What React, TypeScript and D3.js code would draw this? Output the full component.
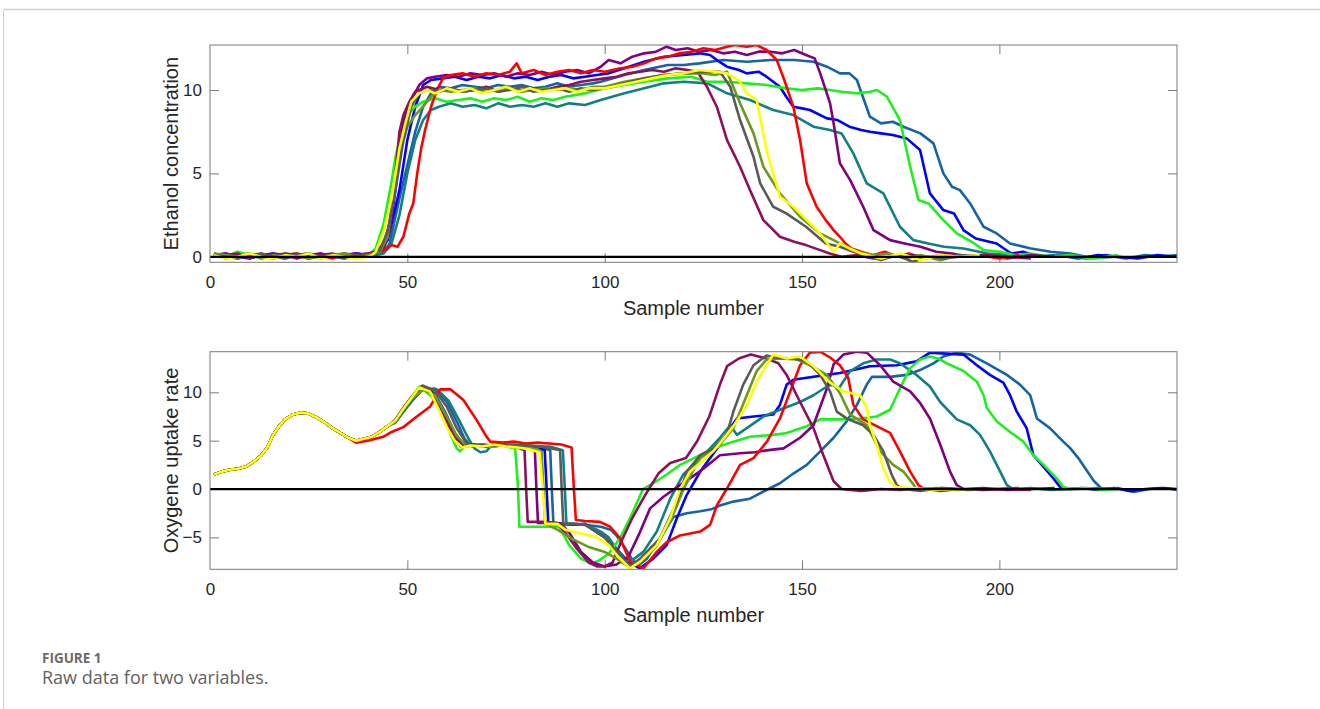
import React, { useRef, useEffect } from "react";
import * as d3 from "d3";

type Pt = [number, number];

// axis ticks
const sampleTicks = [0, 50, 100, 150, 200];
const ethanolTicks = [0, 5, 10];
const oxygenTicks = [-5, 0, 5, 10];

// ---------- Ethanol concentration (top panel) ----------
const ethRed: Pt[] = [[1,0.2],[4,-0.1],[7,0.1],[10,0],[13,0.2],[16,-0.1],[19,0.1],[22,0.2],[25,0],[28,0.1],[31,-0.1],[34,0.2],[37,0.1],[40,0.2],[43,0.3],[45,0.5],[46,0.7],[47.5,0.6],[49,1.2],[50.5,2.6],[51.5,3.2],[52.5,5.0],[53.5,6.5],[54.5,7.6],[56,9.0],[57.5,10.0],[59,10.7],[61,10.9],[64,11.0],[67,10.8],[70,11.0],[73,10.9],[76,11.1],[77.7,11.6],[79,11.0],[82,11.2],[85,10.9],[88,11.1],[91,11.2],[94,11.0],[97,11.2],[100,11.1],[104,11.3],[107,11.4],[110,11.6],[113,11.9],[116,12.0],[119,12.2],[122,12.3],[125,12.5],[128,12.4],[131,12.6],[133,12.7],[136,12.6],[138.5,12.7],[141,12.4],[143.6,11.8],[145.5,10.6],[147.8,9.0],[149.5,7.0],[151.2,4.4],[153.7,3.0],[156,2.2],[158,1.6],[159.6,1.2],[161,0.8],[162.5,0.5],[165,0.3],[168,0.1],[171,0.3],[174,0],[177,0.2],[181,-0.1],[185,0.1],[190,0],[195,0.1],[200,-0.1],[205,0.1]];
const ethPurple: Pt[] = [[1,0.1],[4,0.2],[7,-0.1],[10,0.1],[13,0],[16,0.2],[19,0.1],[22,-0.1],[25,0.1],[28,0.2],[31,0],[34,0.1],[37,0.2],[40,0.1],[42,0.3],[44,0.5],[45.5,1.5],[47,4.0],[48,6.5],[49,8.0],[50,9.0],[51,9.4],[53,10.3],[55,10.7],[57,10.8],[60,10.9],[63,10.8],[66,11.0],[69,10.9],[72,11.0],[75,10.8],[78,11.0],[81,10.9],[84,11.1],[87,10.9],[90,11.1],[93,11.2],[96,11.0],[99,11.4],[101,11.8],[104,11.6],[107,12.0],[110,12.2],[113,12.3],[115.7,12.6],[118,12.4],[121,12.5],[124,12.3],[127,12.4],[130,12.2],[133,12.3],[136,12.1],[139,12.3],[142,12.3],[145,12.2],[148,12.4],[151,12.1],[153.2,11.9],[154.6,11.0],[156,10.0],[157.1,9.2],[158,8.0],[159.6,5.6],[162.2,4.6],[165.5,3.0],[168.1,1.6],[172.3,1.0],[176,0.8],[180,0.6],[184,0.3],[188,0.2],[192,0],[197,0.1],[202,-0.1],[208,0.1],[214,0]];
const ethMaroon: Pt[] = [[1,0],[4,0.1],[7,0.2],[10,-0.1],[13,0.1],[16,0],[19,0.2],[22,0.1],[25,-0.1],[28,0.1],[31,0.2],[34,0],[37,0.1],[40,0.2],[42,0.3],[44,0.8],[45.5,2.0],[47,5.0],[48,7.5],[49,8.5],[50.5,9.3],[52,9.9],[55,10.2],[58,10.0],[61,10.1],[64,9.9],[67,10.0],[70,10.2],[73,9.9],[76,10.1],[79,10.0],[82,10.1],[85,10.0],[88,10.2],[91,10.3],[94,10.5],[97,10.6],[100,10.7],[103,10.8],[106,11.0],[109,11.1],[112,11.2],[115,11.1],[118,11.3],[121,11.2],[123.5,11.1],[125.9,10.2],[128.4,9.0],[131,7.0],[134.3,5.4],[136.8,4.0],[140.2,2.2],[144.4,1.2],[148,0.9],[151,0.7],[154.6,0.4],[157,0.2],[160,0],[164,0.1],[168,-0.1],[173,0],[178,0.1],[184,-0.1],[190,0],[196,0.1],[202,0],[208,-0.1]];
const ethGray: Pt[] = [[1,0.1],[4,0],[7,-0.1],[10,0.1],[13,0.2],[16,0],[19,-0.1],[22,0.1],[25,0.2],[28,0],[31,0.1],[34,-0.1],[37,0.1],[40,0],[43,0.4],[45,1.5],[47,4.0],[49,7.0],[51,9.0],[53,9.8],[55,10.0],[58,9.9],[61,10.1],[64,9.9],[67,10.0],[70,10.1],[73,9.9],[76,10.0],[79,10.2],[82,9.9],[85,10.0],[88,10.1],[91,9.9],[94,10.1],[97,10.0],[100,10.1],[105,10.4],[110,10.7],[115,10.9],[120,11.0],[125,11.1],[129.2,11.1],[131.8,10.2],[134.3,8.2],[137.7,6.0],[139.4,4.4],[142.7,3.0],[146,2.6],[151,1.8],[156,0.8],[159.6,0.6],[163,0.3],[166,0.1],[170,-0.2],[174,0.1],[178,-0.3],[182,0],[186,-0.1],[190,0.1],[195,0]];
const ethOlive: Pt[] = [[1,0.2],[4,0.1],[7,0],[10,0.2],[13,-0.1],[16,0.1],[19,0],[22,0.1],[25,-0.1],[28,0],[31,0.1],[34,0.2],[37,0],[40,0.1],[43,0.3],[45,1.2],[47,4.5],[48.5,6.5],[50,7.8],[52,8.5],[54,9.0],[56,9.6],[58,10.0],[61,9.9],[64,10.0],[67,10.1],[70,9.9],[73,10.0],[76,10.1],[79,9.9],[82,10.0],[85,10.1],[88,10.0],[91,10.1],[94,10.0],[97,10.2],[100,10.2],[105,10.5],[110,10.7],[115,10.9],[120,11.0],[125,11.0],[128,10.9],[131,11.1],[134.3,9.2],[137.7,7.4],[140.2,5.4],[144.4,3.8],[149.5,2.4],[154.6,1.4],[159.6,0.8],[164,0.3],[168,0.1],[172,0.2],[176,-0.1],[180,0.1],[185,-0.2],[190,0.1],[195,0]];
const ethYellow: Pt[] = [[1,0.1],[4,-0.1],[7,0],[10,0.2],[13,0],[16,-0.1],[19,0.1],[22,0],[25,0.2],[28,-0.1],[31,0.1],[34,0],[37,-0.1],[40,0],[41,0.1],[42,0.3],[44,1.5],[46,3.5],[47,5.0],[48,6.5],[49.5,8.0],[51,9.3],[53,9.8],[55,10.0],[57,9.8],[60,10.1],[63,9.9],[66,10.1],[69,9.8],[72,10.0],[75,10.2],[78,9.9],[81,10.1],[84,9.9],[87,10.0],[90,10.1],[93,9.9],[96,10.1],[100,10.1],[104,10.3],[108,10.5],[112,10.7],[116,10.9],[120,11.0],[124,11.2],[128,11.1],[131,11.0],[134,10.6],[136,9.8],[138.5,9.4],[141,6.4],[144.4,3.6],[147.8,3.0],[151.2,2.2],[154.6,1.4],[157,0.6],[158,0.3],[159.6,0.8],[162,0.5],[165,0.2],[170,-0.1],[175,0.2],[180,-0.2],[185,0.1],[190,0],[195,0.1]];
const ethLime: Pt[] = [[1,0.2],[4,0],[7,0.3],[10,0.1],[13,-0.1],[16,0.1],[19,0.2],[22,0],[25,0.1],[28,-0.1],[31,0.1],[34,0.2],[37,0],[40,0.1],[42,0.5],[44,2.0],[46,4.5],[47,6.0],[48.5,7.5],[50,8.5],[52,9.0],[54,9.3],[57,9.5],[60,9.3],[63,9.4],[66,9.5],[69,9.3],[72,9.5],[75,9.4],[78,9.6],[81,9.3],[84,9.5],[87,9.4],[90,9.6],[95,9.8],[100,10.1],[105,10.3],[110,10.5],[116,10.7],[122,10.8],[126,10.5],[131,10.5],[136,10.4],[141,10.3],[146,10.1],[150,10.0],[154,10.1],[157.1,10.0],[160,9.9],[164,9.8],[167.2,9.9],[169,10.0],[171.5,9.6],[174.8,8.2],[177.4,5.4],[179.5,3.4],[182,3.2],[185.8,2.2],[189.2,1.4],[193,0.9],[196,0.4],[200,0.3],[204,0.1],[208,0.2],[213,0],[218,0.1],[224,-0.1],[230,0.1]];
const ethBlue: Pt[] = [[1,0.1],[4,0.2],[7,0],[10,-0.1],[13,0.1],[16,0.2],[19,0],[22,0.1],[25,-0.1],[28,0.2],[31,0],[34,0.1],[37,0.2],[40,0.1],[43,0.3],[45,1.0],[48,4.0],[50,7.0],[52,9.0],[54,10.3],[56,10.6],[59,10.7],[62,10.8],[65,10.6],[68,10.8],[71,10.7],[74,10.9],[77,10.7],[80,10.8],[83,10.6],[86,10.8],[89,10.9],[92,10.7],[95,10.8],[98,10.9],[101,11.0],[105,11.3],[110,11.7],[115,12.0],[120,12.1],[124,12.2],[126.7,12.1],[129,11.7],[131,11.4],[134,11.2],[136,11.0],[139,11.1],[141,10.8],[144.4,10.2],[146,9.6],[147.8,9.0],[150,8.9],[152,8.8],[156.3,8.3],[159,8.2],[162,7.8],[165,7.6],[167.2,7.5],[170,7.4],[173,7.3],[176.5,7.1],[179.9,6.4],[182.4,3.8],[185.8,2.8],[188.5,2.6],[190.9,1.6],[194,1.1],[199.3,0.8],[203,0.2],[206,0.3],[210,0],[215,0.1],[220,-0.1],[225,0.1],[230,0],[235,-0.1],[240,0.1],[245,0]];
const ethSteel: Pt[] = [[1,0.2],[4,0],[7,0.1],[10,0.2],[13,0],[16,0.1],[19,-0.1],[22,0.1],[25,0.2],[28,0],[31,0.1],[34,0],[37,0.2],[40,0.1],[44,0.3],[45.5,0.8],[48,3.5],[50,5.5],[52,7.5],[54,9.0],[56,9.8],[58,10.2],[61,10.1],[64,10.3],[67,10.2],[70,10.1],[73,10.3],[76,10.2],[79,10.3],[82,10.1],[85,10.2],[88,10.4],[91,10.2],[94,10.3],[97,10.4],[99,10.5],[105,10.9],[110,11.2],[116,11.5],[120,11.5],[124,11.6],[130,11.8],[136,11.7],[142,11.8],[148,11.8],[152.9,11.7],[156.3,11.4],[159.6,11.0],[162,11.0],[163.9,10.6],[167.2,8.4],[170,8.0],[173,8.1],[175.7,7.8],[180,7.4],[183.3,6.8],[185.8,5.0],[188,4.2],[190,4.0],[192.6,3.2],[196,1.8],[199.3,1.4],[202.7,0.8],[208,0.5],[213,0.3],[218,0.2],[222,0],[227,0.1],[232,-0.1],[237,0.1],[241,0],[245,0.1]];
const ethTeal: Pt[] = [[1,0],[4,0.1],[7,0.2],[10,0],[13,0.1],[16,-0.1],[19,0.1],[22,0.2],[25,0],[28,0.1],[31,0],[34,-0.1],[37,0.1],[40,0],[44,0.2],[46,0.8],[48,2.5],[50,5.0],[52,7.0],[54,8.2],[56,8.8],[58,9.0],[61,9.2],[64,9.0],[67,9.1],[70,8.9],[73,9.2],[76,9.0],[79,9.1],[82,9.0],[85,9.2],[88,9.0],[91,9.2],[95,9.1],[99,9.4],[105,9.8],[110,10.1],[115,10.4],[120,10.5],[126,10.4],[131,9.8],[136.8,9.4],[142.7,8.8],[147.8,8.5],[152.9,7.8],[157.1,7.6],[160,7.4],[163,6.2],[166.4,4.4],[170.6,3.8],[174.8,1.8],[178.2,1.0],[182,0.8],[186,0.6],[190.9,0.5],[197,0.2],[203,0.1],[209,0],[215,0.1],[222,-0.1],[230,0]];

// ---------- Oxygene uptake rate (bottom panel) ----------
const oxyCommon: Pt[] = [[1,1.5],[3,1.8],[5,2.0],[7,2.1],[9,2.3],[11,2.8],[13,3.5],[14.5,4.3],[16,5.6],[17.5,6.5],[19,7.2],[21,7.7],[23,7.9],[25,7.8],[27,7.4],[29,6.9],[31,6.3],[33,5.8],[35,5.3],[37,5.0],[39,5.2],[41,5.4],[43,5.9],[45,6.5]];
const oxyRedTail: Pt[] = [[37,4.8],[40,5.0],[43.9,5.4],[46,5.9],[49,6.4],[52.4,7.5],[55.7,8.5],[57.4,9.6],[58.3,10.3],[61,10.3],[64.2,9.2],[67.6,7.1],[70.1,5.4],[71,4.9],[74,4.8],[77,4.9],[80,4.7],[83,4.8],[86,4.7],[89,4.6],[91.6,4.3],[92.2,0],[92.7,-3.2],[95,-3.3],[98.8,-3.4],[101.4,-3.9],[103.9,-5.1],[106.4,-7.5],[109.8,-8.2],[113.2,-6.5],[115.7,-5.5],[119.1,-4.8],[124.2,-4.4],[126.7,-3.7],[128.4,-1.7],[130.9,0],[134.3,2.5],[137.7,3.2],[141.1,4.9],[144.4,7.3],[147,10.1],[149.5,12.8],[152,14.1],[154.6,14.2],[157.1,13.6],[159.6,12.8],[161.7,11.5],[163,8.7],[165.5,7.2],[168.9,6.5],[172.3,5.8],[174.8,3.9],[177.4,1.8],[179.5,0.4],[181,0],[186,0.1],[192,-0.1],[198,0],[205,0.1]];
const oxyPurpleTail: Pt[] = [[47,7.0],[49,8.2],[51,9.3],[54,10.5],[56.5,10.0],[59,8.0],[61.5,6.0],[64,4.5],[67,4.6],[70,4.4],[73,4.6],[76,4.5],[79,4.4],[82.3,4.1],[82.7,0],[83.1,-3.5],[86,-3.5],[89,-3.6],[91,-4.5],[94,-6.5],[97,-7.6],[100,-8.0],[103,-7.8],[106,-7.0],[109,-4.4],[111.5,-2.0],[114.9,-0.8],[119.1,0.4],[121.6,1.1],[125,2.1],[129.2,3.5],[134.3,3.7],[138,3.8],[141,4.0],[145.3,4.2],[149.5,5.3],[152.9,6.6],[156.3,10.4],[158,12.9],[160.5,13.9],[163.9,14.2],[166.4,14.1],[169.8,12.8],[173.1,11.1],[177.4,10.1],[179.9,8.9],[182.4,7.3],[185,4.6],[187.5,1.8],[189.2,0.4],[191,0],[196,0.1],[202,-0.1],[208,0],[214,0.1]];
const oxyMaroonTail: Pt[] = [[47,7.2],[49,8.4],[51,9.5],[53.5,10.6],[56,10.0],[58.5,8.2],[61,6.0],[63.5,4.4],[66,4.6],[69,4.4],[72,4.6],[75,4.5],[78,4.3],[79.7,4.0],[80.1,0],[80.5,-3.4],[84,-3.4],[88,-3.5],[90,-4.5],[93,-6.2],[96,-7.6],[98,-8.0],[100,-8.0],[102,-7.6],[104,-5.6],[107,-3.0],[110,-0.8],[113.6,1.6],[116.6,2.7],[120.6,3.2],[123.5,5.0],[126.5,7.5],[129.2,10.8],[131,12.7],[134,13.5],[137,13.9],[141,13.5],[144,13.0],[146.1,11.8],[149.5,9.0],[152.9,6.3],[155.4,3.5],[158,0.8],[160,0],[165,-0.2],[170,0],[175,-0.1],[180,0.1],[185,-0.2],[190,0],[196,-0.1],[202,0],[208,-0.1]];
const oxyBlueTail: Pt[] = [[47,7.0],[49,8.1],[51,9.2],[54,10.4],[57,9.8],[59.5,8.0],[62,5.8],[64.5,4.5],[67,4.6],[70,4.4],[73,4.6],[76,4.5],[79,4.4],[82,4.3],[84.8,4.0],[85.3,0],[85.7,-3.6],[89,-3.6],[92,-3.7],[95,-3.6],[97,-4.2],[100,-5.0],[103,-6.2],[106,-7.5],[108.9,-8.2],[112.3,-7.2],[115.7,-5.8],[118.3,-3.0],[120.8,-0.6],[124.2,1.8],[129.2,4.6],[131.8,6.3],[133.5,7.3],[137.7,7.5],[142.7,7.7],[144.4,8.7],[146.1,10.8],[147.8,11.3],[151.2,11.5],[156.3,11.8],[159.6,12.0],[163,12.3],[167.2,12.7],[174,12.8],[179,13.2],[182.4,14.1],[186.7,14.0],[190.9,13.9],[194.3,12.8],[197.6,11.8],[201,11.0],[202.7,9.7],[204.4,8.0],[206.9,6.3],[208.6,3.5],[211.2,2.3],[213.7,1.1],[215.4,0.2],[217,0],[221,0.1],[225,-0.1],[229,0.1],[233,-0.2],[237,0],[241,0.1],[245,0]];
const oxySteelTail: Pt[] = [[47,6.9],[49,8.0],[51,9.0],[53.5,10.2],[57,10.4],[60,9.0],[62.5,7.0],[64.5,5.2],[66,4.5],[69,4.6],[72,4.4],[75,4.6],[78,4.5],[81,4.4],[84,4.3],[86.2,4.0],[86.6,0],[87,-3.6],[91,-3.6],[95,-3.7],[99,-3.9],[101.5,-4.2],[103,-4.8],[105,-6.0],[107,-7.3],[108.5,-7.9],[110.7,-7.2],[114,-5.1],[117.4,-2.9],[120.8,-2.5],[124.2,-2.3],[127,-2.1],[129.2,-1.7],[132.6,-1.3],[136.8,-1.0],[141,-0.1],[144.4,0.6],[147.8,1.6],[151.2,2.5],[154.6,3.9],[158,5.3],[161.3,7.0],[163.9,8.7],[166.4,10.8],[167.7,11.6],[172.3,11.6],[176.5,11.8],[179.9,12.3],[183.3,13.0],[185.8,13.7],[189.2,14.1],[192.6,13.9],[196.8,13.0],[201.9,11.8],[205.2,10.8],[207.8,9.7],[209.5,7.3],[212.8,6.3],[216.2,4.9],[218,4.2],[220,3.2],[222,2.0],[224,0.8],[226,0],[230,0.1],[234,-0.3],[238,0],[242,0.1],[245,-0.1]];
const oxyTealTail: Pt[] = [[47,6.9],[49,8.0],[51,9.1],[54,10.3],[57.5,10.3],[60.5,9.1],[63,7.2],[65.5,5.2],[67,4.2],[68.5,3.8],[70,3.9],[71.5,4.6],[74,4.5],[77,4.6],[80,4.5],[83,4.4],[86,4.4],[89.4,4.0],[89.9,0],[90.3,-3.6],[93,-3.6],[95,-3.7],[97,-4.0],[99,-4.4],[101,-5.0],[103,-6.2],[105.6,-7.5],[107.5,-7.2],[109.8,-6.5],[113.2,-4.4],[116.6,-1.0],[119.9,1.5],[123.3,2.8],[126.7,4.2],[129.2,5.3],[131.8,6.6],[133.5,5.6],[136,6.3],[140.2,7.5],[144.4,8.2],[149.5,9.0],[152.9,9.7],[156.3,10.6],[157.5,10.8],[159.3,10.4],[162.2,12.2],[165.5,13.0],[168.9,13.4],[172.3,13.4],[174.8,13.0],[179,11.8],[182.4,10.6],[185,9.0],[189.2,7.2],[192.6,6.6],[195.1,5.6],[197.6,3.9],[200.2,1.8],[201.9,0.4],[203.5,0],[208,0.1],[213,-0.1],[219,0],[225,0.1],[230,0]];
const oxyLimeTail: Pt[] = [[47,7.0],[49,8.3],[51,9.4],[53,10.6],[55.8,9.7],[58,8.6],[60,6.6],[62.5,4.2],[63.3,3.9],[65,4.6],[68,4.5],[71,4.4],[74,4.5],[77.3,4.2],[78,0.5],[78.4,-3.9],[82,-3.9],[85,-3.9],[88.5,-3.9],[91,-5.8],[94,-7.2],[96.5,-7.7],[98.5,-7.4],[101,-6.7],[104,-5.0],[107,-2.5],[109.7,0],[112.3,0.6],[115.7,1.5],[119.1,2.5],[124.2,3.5],[127.5,4.2],[132.6,4.9],[136.8,5.4],[142.7,5.6],[146.1,5.8],[151.2,6.5],[154.6,7.2],[160,7.2],[165,7.3],[168.9,7.5],[172.3,8.2],[174.8,10.4],[177.4,12.5],[179.9,13.4],[182.4,13.7],[184.5,13.5],[186.7,13.0],[190.9,12.2],[194.3,11.1],[196,9.7],[196.8,8.4],[199.3,7.0],[202.7,5.9],[206.1,4.9],[208.6,3.5],[211.2,2.5],[214.5,1.1],[216.2,0.2],[218,0],[222,0.1],[226,-0.1],[230,0]];
const oxyOliveTail: Pt[] = [[47,7.0],[49,8.2],[51,9.3],[54,10.3],[57,9.7],[60,7.5],[62.5,5.5],[65,4.4],[68,4.6],[71,4.4],[74,4.5],[77,4.4],[80,4.3],[83,4.1],[84,3.9],[84.5,0],[84.9,-3.6],[88,-4.2],[92,-5.2],[96,-6.0],[100,-6.5],[103,-7.2],[106,-8.0],[109,-7.5],[113,-6.0],[117,-3.0],[120,0],[122,1.6],[124.2,3.2],[129.2,4.6],[132.6,6.3],[136,9.7],[138.5,12.2],[141,13.4],[144.4,13.5],[148.7,13.4],[152,12.8],[156.3,11.8],[159.6,9.9],[162.2,7.7],[166.4,6.6],[169.8,3.9],[173.1,2.5],[175.7,1.8],[177.8,0.7],[179,0],[184,0.1],[189,-0.1],[195,0]];
const oxyGrayTail: Pt[] = [[47,7.1],[49,8.3],[51,9.5],[53.8,10.7],[57,10.2],[60,8.5],[62.5,6.3],[65,4.7],[66.5,4.4],[69,4.6],[72,4.5],[75,4.6],[78,4.5],[81,4.5],[84,4.4],[86.5,4.2],[88.7,4.0],[89.1,0],[89.5,-3.6],[92,-3.6],[95,-3.7],[97,-4.2],[100,-5.0],[103,-6.5],[106.4,-8.0],[109,-7.2],[114,-5.1],[118.3,-1.3],[120.8,1.8],[124.2,3.5],[127.5,4.2],[130.9,5.6],[132.6,8.0],[135.1,10.8],[137.7,12.8],[141,13.8],[143,13.6],[147.8,13.5],[151.2,13.2],[154.6,11.8],[157.1,10.1],[158.8,8.0],[161.3,7.3],[165.5,6.6],[168.1,5.6],[170.6,3.9],[172.7,1.5],[174,0.4],[175.5,0],[180,-0.2],[185,0.1],[190,0]];
const oxyYellowTail: Pt[] = [[47,7.1],[49,8.3],[51,9.4],[53,10.5],[55.7,10.1],[58,8.2],[60,6.4],[62,5.0],[64,4.3],[66,4.5],[69,4.4],[72,4.6],[75,4.4],[78,4.3],[81,4.1],[83.5,3.8],[84.3,0],[85,-3.6],[88,-3.6],[90,-4.2],[94,-4.6],[98,-5.0],[101,-5.8],[103,-6.8],[106.4,-8.2],[109,-7.5],[113.2,-5.8],[116.6,-3.0],[119.1,0],[121.6,1.8],[124.2,2.7],[127.5,3.9],[130.9,5.6],[133.5,7.0],[136,8.7],[138.5,11.1],[141,12.8],[142.7,13.9],[146.1,13.5],[149.5,13.7],[152.9,12.7],[157.1,11.0],[160.5,10.1],[164.7,9.7],[166.4,8.4],[167.2,6.6],[169,4.5],[170.6,2.1],[172.3,0.7],[174,0.2],[178,0.1],[184,-0.1],[190,0]];

const colors = {
  red: "#ff0000",
  purple: "#800080",
  maroon: "#8e0f5e",
  blue: "#0000ff",
  steel: "#1663a6",
  teal: "#127f84",
  lime: "#1ef01e",
  olive: "#6b9a1f",
  gray: "#5a5a5a",
  yellow: "#ffff00",
};

const ethanolSeries = [
  { color: colors.steel, data: ethSteel },
  { color: colors.blue, data: ethBlue },
  { color: colors.teal, data: ethTeal },
  { color: colors.lime, data: ethLime },
  { color: colors.purple, data: ethPurple },
  { color: colors.red, data: ethRed },
  { color: colors.maroon, data: ethMaroon },
  { color: colors.olive, data: ethOlive },
  { color: colors.gray, data: ethGray },
  { color: colors.yellow, data: ethYellow },
];

const oxygenSeries = [
  { color: colors.steel, data: [...oxyCommon, ...oxySteelTail] },
  { color: colors.blue, data: [...oxyCommon, ...oxyBlueTail] },
  { color: colors.teal, data: [...oxyCommon, ...oxyTealTail] },
  { color: colors.lime, data: [...oxyCommon, ...oxyLimeTail] },
  { color: colors.purple, data: [...oxyCommon, ...oxyPurpleTail] },
  { color: colors.red, data: [...oxyCommon.filter((d) => d[0] <= 35), ...oxyRedTail] },
  { color: colors.maroon, data: [...oxyCommon, ...oxyMaroonTail] },
  { color: colors.olive, data: [...oxyCommon, ...oxyOliveTail] },
  { color: colors.gray, data: [...oxyCommon, ...oxyGrayTail] },
  { color: colors.yellow, data: [...oxyCommon, ...oxyYellowTail] },
];

const AXIS_FONT = "'Liberation Sans', Arial, Helvetica, sans-serif";
const CAPTION_FONT = "'Open Sans', Lato, sans-serif";
const BOX = "#7a7a7a";
const TEXT = "#262626";

function drawPanel(svg, opts) {
  const { id, top, bottom, yDomain, yTicks, yLabel, series } = opts;
  const x = d3.scaleLinear().domain([0, 245]).range([210, 1177]);
  const y = d3.scaleLinear().domain(yDomain).range([bottom, top]);
  const g = svg.append("g");

  g.append("clipPath")
    .attr("id", id)
    .append("rect")
    .attr("x", x(0))
    .attr("y", top)
    .attr("width", x(245) - x(0))
    .attr("height", bottom - top);

  // axes with inward ticks on all four sides
  const bx = g.append("g").attr("transform", `translate(0,${bottom})`)
    .call(d3.axisBottom(x).tickValues(sampleTicks).tickSize(-9).tickPadding(13.5));
  const tx = g.append("g").attr("transform", `translate(0,${top})`)
    .call(d3.axisTop(x).tickValues(sampleTicks).tickSize(-9).tickFormat(() => ""));
  const ly = g.append("g").attr("transform", `translate(${x(0)},0)`)
    .call(d3.axisLeft(y).tickValues(yTicks).tickSize(-9).tickPadding(8));
  const ry = g.append("g").attr("transform", `translate(${x(245)},0)`)
    .call(d3.axisRight(y).tickValues(yTicks).tickSize(-9).tickFormat(() => ""));
  [bx, tx, ly, ry].forEach((a) => {
    a.select(".domain").remove();
    a.selectAll("line").attr("stroke", BOX);
    a.selectAll("text")
      .attr("fill", TEXT)
      .style("font-family", AXIS_FONT)
      .style("font-size", "17px");
  });
  // the tick at 0 sits on the box edge
  bx.selectAll(".tick").filter((d) => d === 0).select("line").remove();
  tx.selectAll(".tick").filter((d) => d === 0).select("line").remove();

  // series lines
  const line = d3.line<Pt>().x((d) => x(d[0])).y((d) => y(d[1]));
  g.append("g")
    .attr("clip-path", `url(#${id})`)
    .selectAll("path")
    .data(series)
    .join("path")
    .attr("d", (s) => line(s.data))
    .attr("fill", "none")
    .attr("stroke", (s) => s.color)
    .attr("stroke-width", 2.6)
    .attr("stroke-linejoin", "round");

  // zero reference line
  g.append("line")
    .attr("x1", x(0)).attr("x2", x(245))
    .attr("y1", y(0)).attr("y2", y(0))
    .attr("stroke", "#000").attr("stroke-width", 2.2);

  // box
  g.append("rect")
    .attr("x", x(0)).attr("y", top)
    .attr("width", x(245) - x(0)).attr("height", bottom - top)
    .attr("fill", "none").attr("stroke", BOX).attr("stroke-width", 1);

  // labels
  g.append("text")
    .attr("x", (x(0) + x(245)) / 2)
    .attr("y", bottom + 53)
    .attr("text-anchor", "middle")
    .attr("fill", TEXT)
    .style("font-family", AXIS_FONT)
    .style("font-size", "20px")
    .text("Sample number");
  g.append("text")
    .attr("transform", `translate(178,${(top + bottom) / 2}) rotate(-90)`)
    .attr("text-anchor", "middle")
    .attr("fill", TEXT)
    .style("font-family", AXIS_FONT)
    .style("font-size", "20px")
    .text(yLabel);
}

export default function App() {
  const svgRef = useRef<SVGSVGElement>(null);

  useEffect(() => {
    const svg = d3.select(svgRef.current);
    svg.selectAll("*").remove();

    // page frame
    svg.append("line").attr("x1", 4).attr("x2", 1320).attr("y1", 9.5).attr("y2", 9.5)
      .attr("stroke", "#cfcfcf").attr("stroke-width", 1.5);
    svg.append("line").attr("x1", 3.5).attr("x2", 3.5).attr("y1", 9.5).attr("y2", 709)
      .attr("stroke", "#cfcfcf").attr("stroke-width", 1);

    drawPanel(svg, {
      id: "clip-ethanol",
      top: 45,
      bottom: 262.3,
      yDomain: [-0.33, 12.7],
      yTicks: ethanolTicks,
      yLabel: "Ethanol concentration",
      series: ethanolSeries,
    });
    drawPanel(svg, {
      id: "clip-oxygen",
      top: 351.7,
      bottom: 569.3,
      yDomain: [-8.3, 14.2],
      yTicks: oxygenTicks,
      yLabel: "Oxygene uptake rate",
      series: oxygenSeries,
    });

    // caption
    svg.append("text")
      .attr("x", 42).attr("y", 663)
      .attr("fill", "#6a6a6a")
      .style("font-family", CAPTION_FONT)
      .style("font-weight", "bold")
      .style("font-size", "13.5px")
      .text("FIGURE 1");
    svg.append("text")
      .attr("x", 42).attr("y", 684)
      .attr("fill", "#626262")
      .style("font-family", CAPTION_FONT)
      .style("font-size", "18px")
      .text("Raw data for two variables.");

    return () => {
      svg.selectAll("*").remove();
    };
  }, []);

  return (
    <svg
      ref={svgRef}
      width={1320}
      height={709}
      style={{ position: "absolute", left: 0, top: 0, background: "#fff" }}
    />
  );
}
